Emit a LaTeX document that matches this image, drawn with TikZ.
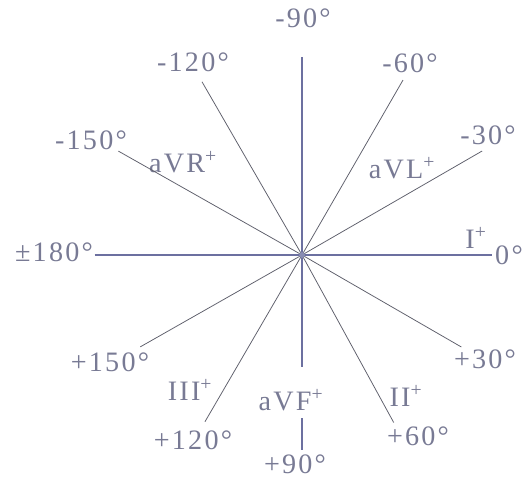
\documentclass[tikz,border=0pt]{standalone}
\usepackage{fontspec}
\setmainfont{Liberation Serif}[LetterSpace=8]
\usetikzlibrary{calc}

\definecolor{labelgray}{RGB}{120,122,148}
\definecolor{axisblue}{RGB}{108,112,160}
\definecolor{raygray}{RGB}{95,96,108}

\begin{document}
\begin{tikzpicture}[
  x=0.025cm, y=0.025cm,
  lbl/.style={text=labelgray, font=\fontsize{20}{20}\selectfont, inner sep=1pt},
  axis/.style={draw=axisblue, line width=0.9pt},
  ray/.style={draw=raygray, line width=0.55pt}
]
\useasboundingbox (-302,-224) rectangle (230,255);

\coordinate (O) at (0,0);

% angle labels
\node (m90) [lbl] at (1,237) {-90°};
\node (m60) [lbl] at (108,192) {-60°};
\node (m30) [lbl] at (186,120) {-30°};
\node (zero) [lbl] at (207,0) {0°};
\node (m120) [lbl] at (-109,193) {-120°};
\node (m150) [lbl] at (-211,115) {-150°};
\node (pm180) [lbl] at (-248,3) {±180°};
\node (p150) [lbl] at (-192,-107) {+150°};
\node (p120) [lbl] at (-109,-185) {+120°};
\node (p90) [lbl] at (-7,-209) {+90°};
\node (p60) [lbl] at (116,-181) {+60°};
\node (p30) [lbl] at (183,-104) {+30°};

% lead names
\node (avr) [lbl] at (-119,93) {aVR\textsuperscript{+}};
\node (avl) [lbl] at (100,87) {aVL\textsuperscript{+}};
\node (lead1) [lbl] at (174,17) {I\textsuperscript{+}};
\node (lead3) [lbl] at (-112,-135) {III\textsuperscript{+}};
\node (avf) [lbl] at (-11,-145) {aVF\textsuperscript{+}};
\node (lead2) [lbl] at (104,-141) {II\textsuperscript{+}};

% ray ends
\coordinate (e0) at (0:190);
\coordinate (em30) at (30:208);
\coordinate (em60) at (60:202);
\coordinate (em90) at (90:198);
\coordinate (em120) at (120:200);
\coordinate (em150) at (150.5:211);
\coordinate (ep150) at (209.6:186);
\coordinate (ep120) at (239.8:193);
\coordinate (ep60) at (298.7:191);
\coordinate (ep30) at (330:184);
\coordinate (d1) at (0,-112);
\coordinate (d2) at (0,-163);
\coordinate (d3) at (0,-195);

\draw [ray] (O) -- (em30);
\draw [ray] (O) -- (em60);
\draw [ray] (O) -- (em120);
\draw [ray] (O) -- (em150);
\draw [ray] (O) -- (ep150);
\draw [ray] (O) -- (ep120);
\draw [ray] (O) -- (ep60);
\draw [ray] (O) -- (ep30);

\draw [axis] (O -| pm180.east) -- (e0);
\draw [axis] (em90) -- (d1);
\draw [axis] (d2) -- (d3);
\fill [axisblue!80] (O) circle (3);

\end{tikzpicture}
\end{document}
